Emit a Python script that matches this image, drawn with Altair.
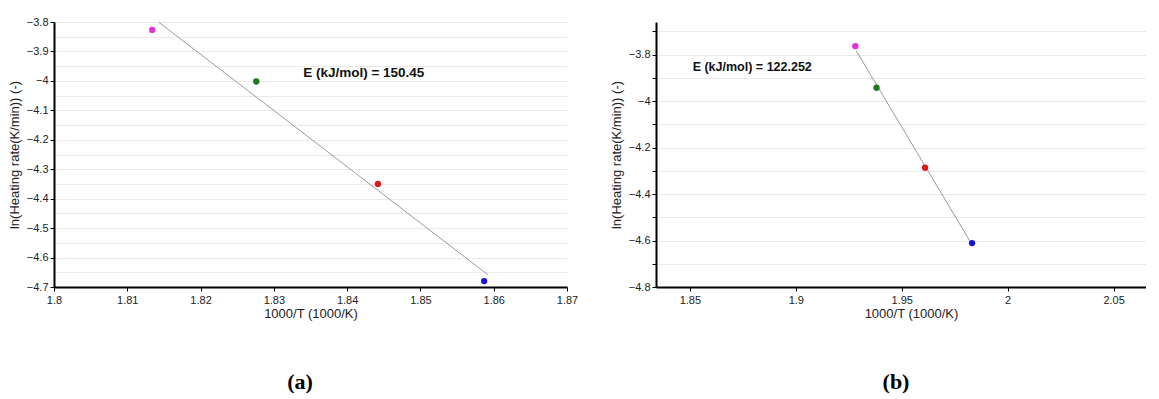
import altair as alt
import pandas as pd

# ---------------- data ----------------
series = ["s1", "s2", "s3", "s4"]
point_colors = ["#e030e0", "#1e7a1e", "#dd1a1a", "#1515d5"]

a_x = [1.8134, 1.8276, 1.8442, 1.8587]
a_y = [-3.827, -4.002, -4.350, -4.680]
b_x = [1.9281, 1.9381, 1.9610, 1.9832]
b_y = [-3.764, -3.943, -4.287, -4.611]

a_fit_extent = [1.8143, 1.8592]
b_fit_extent = [1.9285, 1.9825]

a_note = ["E (kJ/mol) = 150.45"]
a_note_x = [1.834]
a_note_y = [-3.973]
b_note = ["E (kJ/mol) = 122.252"]
b_note_x = [1.8513]
b_note_y = [-3.853]

a_xdomain = [1.8, 1.87]
a_ydomain = [-4.7, -3.8]
b_xdomain = [1.834, 2.0653]
b_ydomain = [-4.8, -3.66]

a_xticks = [1.8, 1.81, 1.82, 1.83, 1.84, 1.85, 1.86, 1.87]
a_yvals = [-4.7, -4.65, -4.6, -4.55, -4.5, -4.45, -4.4, -4.35, -4.3, -4.25,
           -4.2, -4.15, -4.1, -4.05, -4.0, -3.95, -3.9, -3.85, -3.8]
b_xticks = [1.85, 1.9, 1.95, 2.0, 2.05]
b_yvals = [-4.8, -4.7, -4.6, -4.5, -4.4, -4.3, -4.2, -4.1, -4.0, -3.9, -3.8, -3.7]

captions = ["(a)", "(b)"]
x_title = "1000/T (1000/K)"
y_title = "ln(Heating rate(K/min)) (-)"


def panel(xs, ys, xdom, ydom, xticks, yvals, label_mult, cond_ticks,
          extent, note, nx, ny, note_size, caption, width, height, title_x,
          cap_x, cap_y):
    pts = pd.DataFrame({"t": xs, "lnb": ys, "s": series})
    label_test = f"abs(datum.value*{label_mult} - round(datum.value*{label_mult})) < 0.001"
    yaxis_kw = dict(
        values=yvals,
        format="~g",
        labelExpr=f"{label_test} ? datum.label : ''",
        grid=True,
        title=y_title,
        tickSize=4,
        labelPadding=2,
        titlePadding=5,
    )
    if cond_ticks:
        yaxis_kw["tickOpacity"] = {"condition": {"test": label_test, "value": 1}, "value": 0}
    xaxis_kw = dict(
        values=xticks,
        format="~g",
        grid=False,
        labelFlush=False,
        title=x_title,
        tickSize=4,
        labelPadding=3,
        titlePadding=2,
    )
    if title_x is not None:
        xaxis_kw["titleX"] = title_x
    x = alt.X("t:Q", scale=alt.Scale(domain=xdom, nice=False, zero=False),
              axis=alt.Axis(**xaxis_kw))
    y = alt.Y("lnb:Q", scale=alt.Scale(domain=ydom, nice=False, zero=False),
              axis=alt.Axis(**yaxis_kw))

    line = alt.Chart(pts).transform_regression(
        "t", "lnb", extent=extent
    ).mark_line(color="#9a9a9a", strokeWidth=1).encode(x=x, y=y)

    dots = alt.Chart(pts).mark_circle(size=40, opacity=1).encode(
        x=x, y=y,
        color=alt.Color("s:N", scale=alt.Scale(domain=series, range=point_colors), legend=None),
    )

    note_df = pd.DataFrame({"t": nx, "lnb": ny, "txt": note})
    txt = alt.Chart(note_df).mark_text(
        align="left", baseline="middle", font="Liberation Sans",
        fontSize=note_size, fontWeight="bold", color="#111"
    ).encode(x=x, y=y, text="txt:N")

    cap_df = pd.DataFrame({"c": [caption]})
    cap = alt.Chart(cap_df).mark_text(
        font="Liberation Serif", fontSize=22, fontWeight="bold",
        baseline="middle", align="center", color="#000"
    ).encode(x=alt.value(cap_x), y=alt.value(cap_y), text="c:N")

    return alt.layer(line, dots, txt, cap).properties(width=width, height=height)


A = panel(a_x, a_y, a_xdomain, a_ydomain, a_xticks, a_yvals, 10, True,
          a_fit_extent, a_note, a_note_x, a_note_y, 13.5, captions[0],
          513, 265, None, 246, 360)
B = panel(b_x, b_y, b_xdomain, b_ydomain, b_xticks, b_yvals, 5, False,
          b_fit_extent, b_note, b_note_x, b_note_y, 12.5, captions[1],
          490, 265, 255, 240, 360)

chart = alt.hconcat(A, B, spacing=89, bounds="flush").properties(
    padding={"left": 0, "top": 8, "right": 0, "bottom": 0}
).configure_view(stroke=None).configure_axis(
    domainColor="#000",
    domainWidth=2,
    tickColor="#000",
    tickWidth=1,
    labelFont="Liberation Sans",
    labelFontSize=11,
    labelColor="#222",
    titleFont="Liberation Sans",
    titleFontSize=13,
    titleFontWeight="normal",
    titleColor="#222",
    gridColor="#e9e9e9",
    gridWidth=1,
)

chart.save("out.html", embed_options={"renderer": "svg", "actions": False})
